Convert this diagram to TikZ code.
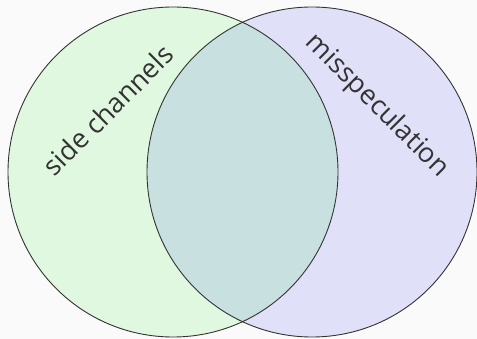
\documentclass[tikz,border=0pt]{standalone}
\usepackage{fontspec}
\setmainfont{Open Sans}
\definecolor{bgcol}{HTML}{FAFAFA}
\definecolor{setA}{HTML}{E0F8E0}
\definecolor{setB}{HTML}{E0E0F8}
\definecolor{setAB}{HTML}{C8E0E0}
\definecolor{edge}{HTML}{333333}
\begin{document}
\begin{tikzpicture}[x=1pt,y=-1pt,
  setlabel/.style={font=\fontsize{27}{32}\selectfont, text=edge, inner sep=0pt},
  outline/.style={draw=edge, line width=0.9pt}]
  % canvas
  \fill[bgcol] (0,0) rectangle (477,339);
  \useasboundingbox (0,0) rectangle (477,339);
  \coordinate (ca) at (173,172);
  \coordinate (cb) at (312,172);
  % set fills
  \fill[setA] (ca) circle[radius=165];
  \fill[setB] (cb) circle[radius=165];
  \begin{scope}
    \clip (ca) circle[radius=165];
    \fill[setAB] (cb) circle[radius=165];
  \end{scope}
  % outlines
  \draw[outline] (ca) circle[radius=165];
  \draw[outline] (cb) circle[radius=165];
  % labels
  \node[setlabel, rotate=45] (la) at (108,110) {side channels};
  \node[setlabel, rotate=-45] (lb) at (377,106) {misspeculation};
\end{tikzpicture}
\end{document}
